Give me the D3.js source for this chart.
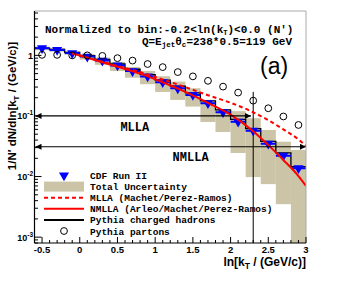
<!DOCTYPE html>
<html><head><meta charset="utf-8">
<script src="https://cdn.jsdelivr.net/npm/d3@7"></script>
<style>body{margin:0;background:#fff}svg{display:block}</style>
</head><body>
<script>
// ---- data ----
const binCenters = [-0.5,-0.3,-0.1,0.1,0.3,0.5,0.7,0.9,1.1,1.3,1.5,1.7,1.9,2.1,2.3,2.5,2.7,2.9];
const binHalfWidth = 0.1;
const cdfValues = [1.31,1.23,1.09,0.955,0.82,0.68,0.55,0.45,0.36,0.286,0.222,0.162,0.115,0.0805,0.057,0.0348,0.0221,0.0137];
const uncLow  = [1.22,1.15,1.02,0.851,0.698,0.553,0.427,0.334,0.249,0.184,0.143,0.0796,0.0544,0.0245,0.0098,0.0075,0.0035,0.0005];
const uncHigh = [1.40,1.32,1.17,1.05,0.92,0.78,0.646,0.553,0.453,0.369,0.287,0.185,0.13,0.12,0.0916,0.0587,0.0376,0.0274];
const pythiaHadrons = [1.32,1.25,1.12,0.99,0.86,0.72,0.59,0.48,0.39,0.31,0.24,0.178,0.126,0.088,0.062,0.038,0.0245,0.0145];
const pythiaPartons = [1.02,1.02,1.0,1.0,0.98,0.90,0.82,0.72,0.64,0.53,0.45,0.38,0.305,0.243,0.179,0.134,0.098,0.071];
const theoryX = [-0.1,0.2,0.5,0.8,1.1,1.4,1.7,2.0,2.3,2.5,2.7,2.9,3.0];
const mllaValues  = [1.08,0.85,0.67,0.53,0.40,0.30,0.22,0.165,0.115,0.085,0.060,0.041,0.032];
const nmllaValues = [1.08,0.84,0.65,0.50,0.36,0.25,0.165,0.105,0.056,0.033,0.0188,0.0102,0.0070];
const xTicks = [-0.5,0,0.5,1,1.5,2,2.5,3];
const xTickLabels = ["-0.5","0","0.5","1","1.5","2","2.5","3"];
const yDecades = [1e-3,1e-2,1e-1,1];
const yTickExp = ["-3","-2","-1",""];
const mllaArrow = {y:0.1, x0:-0.6, x1:2.27, label:"MLLA", labelX:0.73, labelY:0.057};
const nmllaArrow = {y:0.031, x0:-0.6, x1:3.0, label:"NMLLA", labelX:1.47, labelY:0.018};
const refLine = {x:2.30, top:0.25};
const legendItems = ["CDF Run II","Total Uncertainty","MLLA (Machet/Perez-Ramos)","NMLLA (Arleo/Machet/Perez-Ramos)","Pythia charged hadrons","Pythia partons"];

const W=341,H=281;
const L=34.5,R=306,T=11,B=243;
const TAN="#cbc4a6", BLUE="#0000ff", RED="#ff0000";
const mono="'Liberation Mono','DejaVu Sans Mono',monospace";
const sans="'Liberation Sans',Arial,Helvetica,sans-serif";

const svg=d3.select("body").append("svg").attr("width",W).attr("height",H);
svg.append("rect").attr("width",W).attr("height",H).attr("fill","#fff");
const x=d3.scaleLinear().domain([-0.6,3.0]).range([L,R]);
const y=d3.scaleLog().domain([8e-4,5.4]).range([B,T]);

svg.append("defs").append("clipPath").attr("id","clip").append("rect")
  .attr("x",L).attr("y",T).attr("width",R-L).attr("height",B-T);
const defs=svg.select("defs");
defs.append("marker").attr("id","ah").attr("viewBox","0 0 10 10").attr("refX",10).attr("refY",5)
  .attr("markerWidth",7).attr("markerHeight",6).attr("markerUnits","userSpaceOnUse").attr("orient","auto-start-reverse")
  .append("path").attr("d","M0,0L10,5L0,10z").attr("fill","#000");

const g=svg.append("g").attr("clip-path","url(#clip)");

// uncertainty boxes
g.selectAll("rect.unc").data(binCenters).join("rect").attr("class","unc")
  .attr("x",d=>x(d-binHalfWidth)).attr("width",d=>x(d+binHalfWidth)-x(d-binHalfWidth))
  .attr("y",(d,i)=>y(uncHigh[i])).attr("height",(d,i)=>y(uncLow[i])-y(uncHigh[i]))
  .attr("fill",TAN);

// reference vertical line
g.append("line").attr("x1",x(refLine.x)).attr("x2",x(refLine.x)).attr("y1",y(refLine.top)).attr("y2",B)
  .attr("stroke","#000").attr("stroke-width",1);

// arrows
[mllaArrow,nmllaArrow].forEach(a=>{
  svg.append("line").attr("x1",x(a.x0)+1).attr("x2",x(a.x1)).attr("y1",y(a.y)).attr("y2",y(a.y))
    .attr("stroke","#000").attr("stroke-width",1.2)
    .attr("marker-start","url(#ah)").attr("marker-end","url(#ah)");
  svg.append("text").attr("x",x(a.labelX)).attr("y",y(a.labelY)).attr("text-anchor","middle")
    .attr("font-family",mono).attr("font-weight","bold").attr("font-size",12).text(a.label);
});

// pythia hadrons step histogram
const stepPts=[];
binCenters.forEach((c,i)=>{stepPts.push([c-binHalfWidth,pythiaHadrons[i]]);stepPts.push([c+binHalfWidth,pythiaHadrons[i]]);});
g.append("path").datum(stepPts).attr("d",d3.line().x(d=>x(d[0])).y(d=>y(d[1])))
  .attr("fill","none").attr("stroke","#000").attr("stroke-width",1.3);

// CDF horizontal bars
g.selectAll("line.hb").data(binCenters).join("line").attr("class","hb")
  .attr("x1",d=>x(d-binHalfWidth)).attr("x2",d=>x(d+binHalfWidth))
  .attr("y1",(d,i)=>y(cdfValues[i])).attr("y2",(d,i)=>y(cdfValues[i]))
  .attr("stroke",BLUE).attr("stroke-width",2);
const tri=d3.symbol().type(d3.symbolTriangle).size(44);
g.selectAll("path.tri").data(binCenters).join("path").attr("class","tri")
  .attr("d",tri).attr("transform",(d,i)=>`translate(${x(d)},${y(cdfValues[i])}) rotate(180)`)
  .attr("fill",BLUE);

// theory lines
const tline=d3.line().curve(d3.curveMonotoneX).x(d=>x(d[0])).y(d=>y(d[1]));
g.append("path").datum(theoryX.map((v,i)=>[v,mllaValues[i]])).attr("d",tline)
  .attr("fill","none").attr("stroke",RED).attr("stroke-width",2).attr("stroke-dasharray","4,3");
g.append("path").datum(theoryX.map((v,i)=>[v,nmllaValues[i]])).attr("d",tline)
  .attr("fill","none").attr("stroke",RED).attr("stroke-width",2);

// pythia partons circles
g.selectAll("circle.pp").data(binCenters).join("circle").attr("class","pp")
  .attr("cx",d=>x(d)).attr("cy",(d,i)=>y(pythiaPartons[i])).attr("r",3.4)
  .attr("fill","none").attr("stroke","#000").attr("stroke-width",1);

// frame
svg.append("line").attr("x1",L).attr("x2",R).attr("y1",T).attr("y2",T).attr("stroke","#aaa").attr("stroke-width",1);
svg.append("line").attr("x1",R).attr("x2",R).attr("y1",T).attr("y2",B).attr("stroke","#aaa").attr("stroke-width",1);
svg.append("line").attr("x1",L).attr("x2",L).attr("y1",T).attr("y2",B).attr("stroke","#000").attr("stroke-width",1.2);
svg.append("line").attr("x1",L).attr("x2",R).attr("y1",B).attr("y2",B).attr("stroke","#000").attr("stroke-width",1.2);

// x ticks
const xMinor=d3.range(-6,31).map(k=>k/10);
svg.selectAll("line.xm").data(xMinor).join("line").attr("class","xm")
  .attr("x1",d=>x(d)).attr("x2",d=>x(d)).attr("y1",B).attr("y2",d=>Math.abs(d*2-Math.round(d*2))<1e-6?B-6:B-3)
  .attr("stroke","#000").attr("stroke-width",1);
svg.selectAll("text.xt").data(xTicks).join("text").attr("class","xt")
  .attr("x",d=>x(d)).attr("y",252.5).attr("text-anchor","middle")
  .attr("font-family",sans).attr("font-weight","bold").attr("font-size",9.5)
  .text((d,i)=>xTickLabels[i]);

// y ticks
const yMinor=[];
[1e-4,1e-3,1e-2,1e-1,1].forEach(dec=>{for(let k=2;k<=9;k++){const v=k*dec;if(v>=8e-4&&v<=5.4)yMinor.push(v);}});
svg.selectAll("line.ym").data(yMinor).join("line").attr("class","ym")
  .attr("x1",L).attr("x2",L+3.5).attr("y1",d=>y(d)).attr("y2",d=>y(d)).attr("stroke","#000");
svg.selectAll("line.yM").data(yDecades).join("line").attr("class","yM")
  .attr("x1",L).attr("x2",L+7).attr("y1",d=>y(d)).attr("y2",d=>y(d)).attr("stroke","#000");
yDecades.forEach((d,i)=>{
  const t=svg.append("text").attr("x",33).attr("y",y(d)+3.5).attr("text-anchor","end")
    .attr("font-family",sans).attr("font-weight","bold").attr("font-size",9);
  if(yTickExp[i]===""){t.text("1");}
  else{t.append("tspan").text("10");t.append("tspan").attr("dy",-4).attr("font-size",6.5).text(yTickExp[i]);}
});

// axis titles
const xt=svg.append("text").attr("x",R).attr("y",266).attr("text-anchor","end")
  .attr("font-family",sans).attr("font-weight","bold").attr("font-size",12);
xt.append("tspan").text("ln[k");
xt.append("tspan").attr("dy",3).attr("font-size",8.5).text("T");
xt.append("tspan").attr("dy",-3).text(" / (GeV/c)]");

const yt=svg.append("text").attr("transform","translate(16,106) rotate(-90)").attr("text-anchor","middle")
  .attr("font-family",sans).attr("font-weight","bold").attr("font-size",11.5);
yt.append("tspan").text("1/N\u2032 dN/dln[k");
yt.append("tspan").attr("dy",3).attr("font-size",8).text("T");
yt.append("tspan").attr("dy",-3).text(" / (GeV/c)]");

// header text
const h1=svg.append("text").attr("x",45).attr("y",32.5).attr("font-family",mono).attr("font-weight","bold").attr("font-size",11);
h1.append("tspan").text("Normalized to bin:-0.2<ln(k");
h1.append("tspan").attr("dy",2).attr("font-size",7).text("T");
h1.append("tspan").attr("dy",-2).text(")<0.0 (N\u2032)");
const h2=svg.append("text").attr("x",292).attr("y",44.5).attr("text-anchor","end").attr("font-family",mono).attr("font-weight","bold").attr("font-size",11);
h2.append("tspan").text("Q=E");
h2.append("tspan").attr("dy",2.5).attr("font-size",7.5).text("jet");
h2.append("tspan").attr("dy",-2.5).text("\u03b8");
h2.append("tspan").attr("dy",2.5).attr("font-size",7.5).text("c");
h2.append("tspan").attr("dy",-2.5).text("=238*0.5=119 GeV");

svg.append("text").attr("x",260).attr("y",74).attr("font-family",sans).attr("font-size",23).text("(a)");

// legend
const lx0=44,lx1=84,lsx=64,ltx=90,ly0=175.5,ldy=11.1;
legendItems.forEach((s,i)=>{
  const cy=ly0+i*ldy;
  svg.append("text").attr("x",ltx).attr("y",cy+3.5).attr("font-family",mono).attr("font-weight","bold").attr("font-size",9.5).text(s);
  if(i===0) svg.append("path").attr("d",tri).attr("transform",`translate(${lsx},${cy}) rotate(180)`).attr("fill",BLUE);
  if(i===1) svg.append("rect").attr("x",lx0).attr("y",cy-5).attr("width",lx1-lx0).attr("height",10).attr("fill",TAN);
  if(i===2) svg.append("line").attr("x1",lx0).attr("x2",lx1).attr("y1",cy).attr("y2",cy).attr("stroke",RED).attr("stroke-width",2).attr("stroke-dasharray","4,3");
  if(i===3) svg.append("line").attr("x1",lx0).attr("x2",lx1).attr("y1",cy).attr("y2",cy).attr("stroke",RED).attr("stroke-width",2);
  if(i===4) svg.append("line").attr("x1",lx0).attr("x2",lx1).attr("y1",cy).attr("y2",cy).attr("stroke","#000").attr("stroke-width",2);
  if(i===5) svg.append("circle").attr("cx",lsx).attr("cy",cy).attr("r",3.4).attr("fill","none").attr("stroke","#000");
});
</script>
</body></html>
